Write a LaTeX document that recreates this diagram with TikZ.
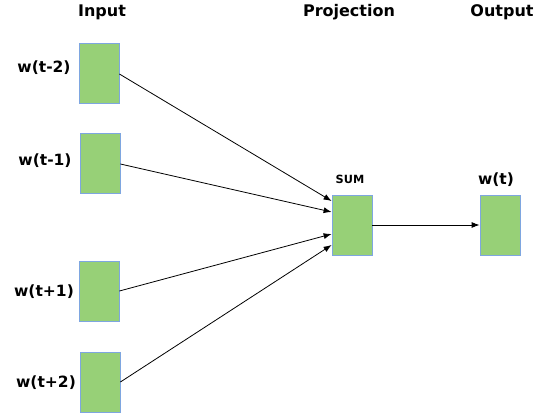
\documentclass[tikz,border=0pt]{standalone}
\usepackage{fontspec}
\setmainfont{DejaVu Sans}
\usetikzlibrary{arrows.meta}
\begin{document}
\begin{tikzpicture}[x=1pt,y=-1pt,
  cell/.style={draw=cellborder, fill=cellfill, line width=0.8pt,
    minimum width=40pt, minimum height=60pt, inner sep=0pt},
  head/.style={font=\bfseries\fontsize{16}{18}\selectfont, inner sep=0pt},
  wlabel/.style={font=\bfseries\fontsize{15.5}{17}\selectfont, inner sep=0pt},
  link/.style={line width=0.8pt, -{Latex[length=8pt,width=6pt]}}]
\definecolor{cellfill}{HTML}{97D077}
\definecolor{cellborder}{HTML}{7EA6E0}
\useasboundingbox (0,0) rectangle (542,413);

% column headings
\node[head] (hin)  at (102,12) {Input};
\node[head] (hpr)  at (349,12) {Projection};
\node[head] (hout) at (502,12) {Output};

% context word cells
\node[cell] (c1) at (99,73) {};
\node[cell] (c2) at (100,163.5) {};
\node[cell] (c3) at (99,291) {};
\node[cell] (c4) at (100,382) {};

\node[wlabel] (l1) at (44,68)  {w(t-2)};
\node[wlabel] (l2) at (45,161) {w(t-1)};
\node[wlabel] (l3) at (44,292) {w(t+1)};
\node[wlabel] (l4) at (46,383) {w(t+2)};

% projection and output cells
\node[cell] (sum) at (352,225) {};
\node[cell] (out) at (500,225) {};
\node[font=\bfseries\fontsize{11.3}{13}\selectfont, inner sep=0pt] (lsum) at (350,179) {SUM};
\node[wlabel] (lout) at (496,180) {w(t)};

% connections into the sum
\draw[link] (c1.east |- 0,74) -- (sum.west |- 0,201);
\draw[link] (c2.east |- 0,164) -- (sum.west |- 0,212);
\draw[link] (c3.east |- 0,291) -- (sum.west |- 0,234);
\draw[link] (c4.east |- 0,382) -- (sum.west |- 0,245);
\draw[link] (sum.east) -- (out.west);
\end{tikzpicture}
\end{document}
